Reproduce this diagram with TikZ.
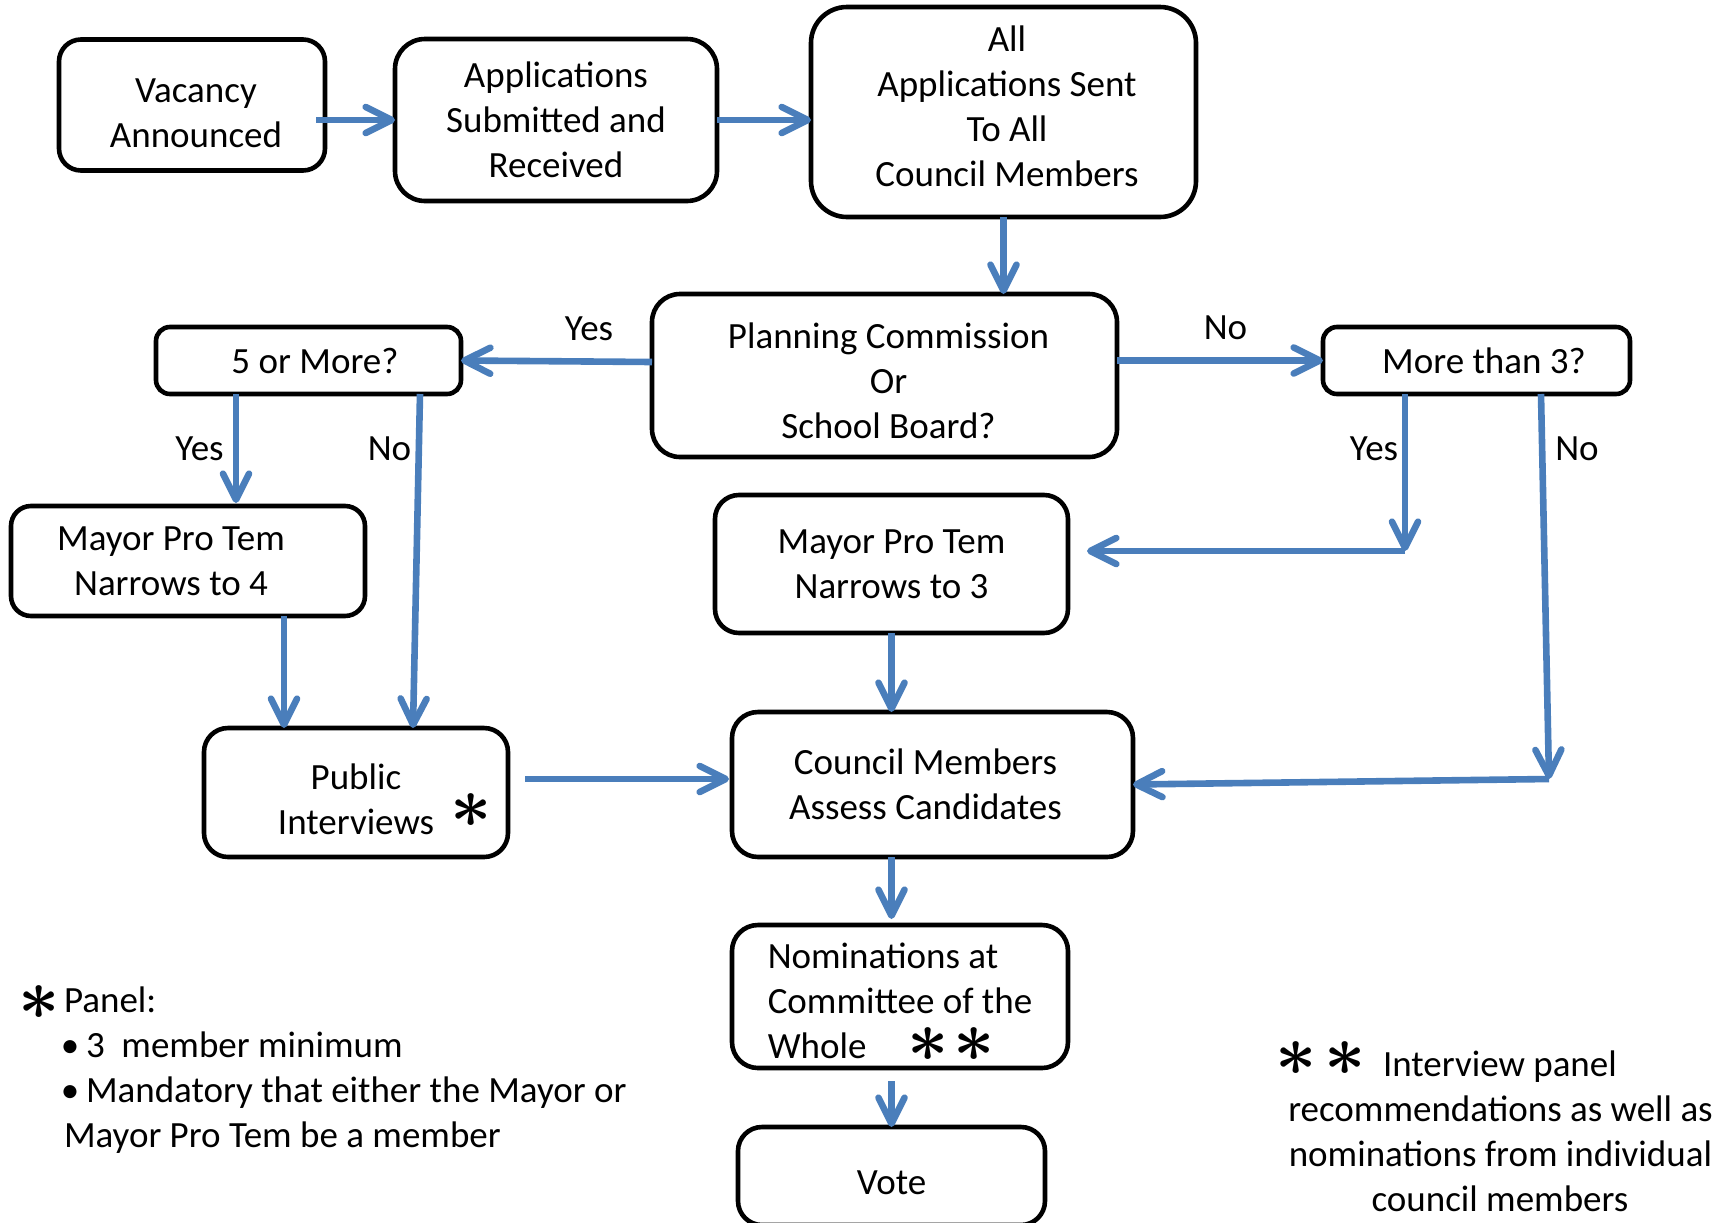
\documentclass[tikz,border=0pt]{standalone}
\usepackage{amsmath}
\usepackage{graphicx}
\usepackage{fontspec}
\setmainfont{Carlito}
\usetikzlibrary{arrows.meta,calc}
\definecolor{arrblue}{HTML}{4A7EBB}
\newcommand{\bigast}{\scalebox{2.08}{$\boldsymbol{\ast}$}}
% raise first line (pushes text down) / deepen last line (pushes text up)
\newcommand{\dn}[2]{\raisebox{0pt}[\dimexpr\height+#1\relax]{#2}}
\newcommand{\upl}[2]{\raisebox{0pt}[\height][\dimexpr\depth+#1\relax]{#2}}
\begin{document}
\begin{tikzpicture}[x=0.5pt,y=-0.5pt,
  every node/.style={font=\fontsize{18.5pt}{22.5pt}\selectfont, inner sep=0pt, outer sep=0pt},
  box/.style={draw=black, line width=2.3pt, align=center, fill=white},
  arr/.style={draw=arrblue, line width=3.3pt, -{Straight Barb[length=13pt,width=13pt,round]}},
  lab/.style={anchor=base},
  note/.style={anchor=base west},
  astx/.style={font=\fontsize{17.28pt}{20pt}\selectfont}]
\useasboundingbox (0,0) rectangle (1731,1222);

% boxes
\node[box,rounded corners=11pt,minimum width=133pt,minimum height=65.5pt] (vac) at (192,105) {\rule{0pt}{19.9pt}\rule{4pt}{0pt}Vacancy\\\rule{4pt}{0pt}Announced};
\node[box,rounded corners=15pt,minimum width=161pt,minimum height=81pt] (app) at (556,120) {Applications\\Submitted and\\Received};
\node[box,rounded corners=18pt,minimum width=192.5pt,minimum height=105pt] (all) at (1003.5,112) {\rule{3.5pt}{0pt}All\\\rule{3.5pt}{0pt}Applications Sent\\\rule{3.5pt}{0pt}To All\\\upl{5.5pt}{\rule{3.5pt}{0pt}Council Members}};
\node[box,rounded corners=7pt,minimum width=152.5pt,minimum height=33.5pt] (five) at (308.5,360.5) {\rule{6.5pt}{0pt}5 or More?};
\node[box,rounded corners=14pt,minimum width=232.5pt,minimum height=81.5pt] (plan) at (884.5,375.5) {\dn{5.5pt}{\rule{4pt}{0pt}Planning Commission}\\\rule{4pt}{0pt}Or\\\rule{4pt}{0pt}School Board?};
\node[box,rounded corners=7pt,minimum width=153.5pt,minimum height=33.5pt] (more) at (1476.5,360.5) {\rule{7.5pt}{0pt}More than 3?};
\node[box,rounded corners=10pt,minimum width=177pt,minimum height=55pt] (may4) at (188,561) {Mayor Pro Tem\rule{17pt}{0pt}\\Narrows to 4\rule{17pt}{0pt}};
\node[box,rounded corners=12pt,minimum width=176.5pt,minimum height=69pt] (may3) at (891.5,564) {Mayor Pro Tem\\Narrows to 3};
\node[box,rounded corners=12pt,minimum width=152pt,minimum height=64.5pt] (pub) at (356,792.5) {\dn{6.5pt}{Public}\\Interviews};
\node[box,rounded corners=13pt,minimum width=200.5pt,minimum height=72.5pt] (coun) at (932.5,784.5) {Council Members\rule{7pt}{0pt}\\Assess Candidates\rule{7pt}{0pt}};
\node[box,align=left,rounded corners=13pt,minimum width=168pt,minimum height=71.5pt] (nom) at (900,996.5) {\dn{6pt}{Nominations at}\\Committee of the\\Whole\hspace*{20.5pt}\raisebox{-1.5pt}{\bigast}\hspace*{2.5pt}\raisebox{-1.5pt}{\bigast}};
\node[box,rounded corners=12pt,minimum width=153.5pt,minimum height=49pt] (vote) at (891.5,1176) {\dn{6.5pt}{Vote}};

% connectors
\coordinate (yc) at (1405,551);
\coordinate (nc) at (1549,779);
\draw[arr] ($(vac.east |- app.west)+(-9,0)$) -- (app.west);
\draw[arr] (app.east) -- (all.west |- app.east);
\draw[arr] (all.south) -- (all.south |- plan.north);
\draw[arr] ($(plan.west)+(0,-13.5)$) -- (five.east);
\draw[arr] (plan.east |- more.west) -- (more.west);
\draw[arr] ($(five.south west)+(80,0)$) -- ($(may4.north west)+(225,-3)$);
\draw[arr] ($(five.south west)+(264,0)$) -- ($(pub.north west)+(209,0)$);
\draw[arr] ($(may4.south west)+(273,0)$) -- ($(pub.north west)+(80,0)$);
\draw[arr] ($(pub.east)+(17,-13.5)$) -- ($(coun.west)+(-3,-5.5)$);
\draw[arr] ($(more.south west)+(82,0)$) -- (yc);
\draw[arr] (yc) -- ($(may3.east)+(19,-13)$);
\draw[arr] ($(more.south west)+(218,0)$) -- (nc);
\draw[arr] (nc) -- (coun.east);
\draw[arr] (may3.south) -- (may3.south |- coun.north);
\draw[arr] (coun.south -| may3.south) -- ($(nom.north -| may3.south)+(0,-6)$);
\draw[arr] ($(nom.south -| may3.south)+(0,13)$) -- (vote.north -| may3.south);

% connector labels
\node[lab] (l1) at (589,340) {Yes};
\node[lab] (l2) at (1225.5,339) {No};
\node[lab] (l3) at (199.5,460) {Yes};
\node[lab] (l4) at (389.5,460) {No};
\node[lab] (l5) at (1374,460) {Yes};
\node[lab] (l6) at (1577,460) {No};

% stars
\node[astx] (s1) at (471,811) {\bigast};
\node[astx] (s4) at (39,1003) {\bigast};
\node[astx] (s5) at (1296,1059) {\bigast};
\node[astx] (s6) at (1345,1059) {\bigast};

% footnotes
\node[note] (p0) at (64,1012) {Panel:};
\node[lab] (b1) at (70,1057) {\textbullet};
\node[note] (p1) at (86,1057) {3\ \ member minimum};
\node[lab] (b2) at (70,1102) {\textbullet};
\node[note] (p2) at (86,1102) {Mandatory that either the Mayor or};
\node[note] (p3) at (64,1147) {Mayor Pro Tem be a member};

\node[note] (r0) at (1383,1076) {Interview panel};
\node[lab] (r1) at (1500.5,1121) {recommendations as well as};
\node[lab] (r2) at (1500.5,1166) {nominations from individual};
\node[lab] (r3) at (1500,1211) {council members};
\end{tikzpicture}
\end{document}
